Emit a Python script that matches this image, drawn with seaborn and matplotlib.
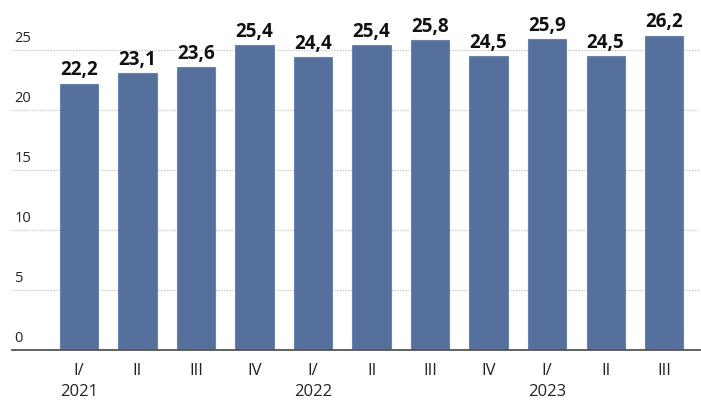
import pandas as pd
import matplotlib.pyplot as plt
import seaborn as sns

# data
periods = ["2021Q1", "2021Q2", "2021Q3", "2021Q4", "2022Q1", "2022Q2",
           "2022Q3", "2022Q4", "2023Q1", "2023Q2", "2023Q3"]
values = [22.2, 23.1, 23.6, 25.4, 24.4, 25.4, 25.8, 24.5, 25.9, 24.5, 26.2]
tick_labels = ["I/\n2021", "II", "III", "IV", "I/\n2022", "II", "III", "IV",
               "I/\n2023", "II", "III"]
y_ticks = [0, 5, 10, 15, 20, 25]

df = pd.DataFrame({"period": periods, "value": values})

sns.set_theme(style="white")
plt.rcParams['font.family'] = ['Open Sans', 'DejaVu Sans']

fig = plt.figure(figsize=(7.01, 4.06), dpi=100)
ax = fig.add_axes([12 / 701, 55 / 406, 688 / 701, 330 / 406])

sns.barplot(data=df, x="period", y="value", order=periods, color="#56709e",
            saturation=1, width=0.65, ax=ax, edgecolor="#6a83ad", linewidth=0.8)

ax.set_xlim(-1.145, 10.615)
ax.set_ylim(0, 27.5)

# dotted grid lines with labels sitting above them on the left
for t in y_ticks[1:]:
    ax.axhline(t, color="#c2c2c2", linestyle=(0, (1, 1.2)), linewidth=0.9, zorder=0)
for t in y_ticks:
    ax.text(-1.1, t + 0.4, str(t), ha="left", va="bottom", fontsize=10.5,
            color="#222222")

# value labels
for i, v in enumerate(values):
    ax.text(i, v + 0.35, f"{v:.1f}".replace(".", ","), ha="center", va="bottom",
            fontsize=13.5, fontweight="bold", color="#111111")

ax.set_yticks([])
ax.set_xticks(range(len(periods)))
ax.set_xticklabels(tick_labels, fontsize=12, color="#222222", linespacing=1.4)
ax.tick_params(axis="x", length=0, pad=9)
ax.set_xlabel("")
ax.set_ylabel("")

for s in ["top", "right", "left"]:
    ax.spines[s].set_visible(False)
ax.spines["bottom"].set_color("#555555")
ax.spines["bottom"].set_linewidth(1.3)

fig.savefig("out.png", dpi=100)
